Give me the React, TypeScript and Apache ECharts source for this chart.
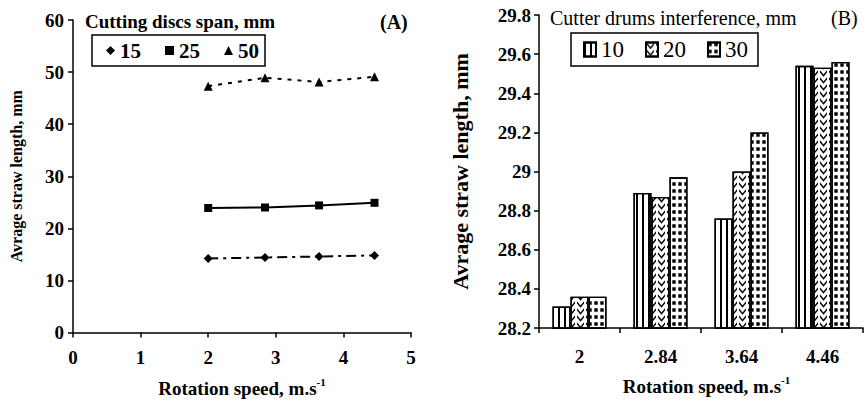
import React, { useEffect, useRef } from "react";
import * as echarts from "echarts";

const speeds = [2, 2.84, 3.64, 4.46];
const span15 = [14.2, 14.4, 14.6, 14.8];
const span25 = [23.9, 24.0, 24.4, 24.9];
const span50 = [47.3, 48.9, 48.1, 49.1];

const speedCats = ["2", "2.84", "3.64", "4.46"];
const interf10 = [28.31, 28.89, 28.76, 29.54];
const interf20 = [28.36, 28.87, 29.0, 29.53];
const interf30 = [28.36, 28.97, 29.2, 29.56];

const FONT = "'Liberation Serif', 'Times New Roman', serif";

export default function App() {
  const ref = useRef<HTMLDivElement>(null);
  useEffect(() => {
    document.body.style.margin = "0";
    const chart = echarts.init(ref.current!, null, { renderer: "svg" });
    const axisLine = { show: true, lineStyle: { color: "#000", width: 1.5 } };
    const axisTick = { show: true, length: 5, lineStyle: { color: "#000", width: 1.5 } };
    const lbl = { color: "#000", fontFamily: FONT, fontSize: 19, fontWeight: "bold" as const };
    const nameRich = {
      a: { color: "#000", fontFamily: FONT, fontSize: 19, fontWeight: "bold" as const },
      b: { color: "#000", fontFamily: FONT, fontSize: 11, fontWeight: "bold" as const, padding: [0, 0, 13, 0] },
    };
    const lineSeries = (name: string, data: number[], symbol: string, type: any, size: number) => ({
      type: "line",
      name,
      xAxisIndex: 0,
      yAxisIndex: 0,
      data: speeds.map((s, i) => [s, data[i]]),
      symbol,
      symbolSize: size,
      itemStyle: { color: "#000" },
      lineStyle: { color: "#000", width: 2, type },
    });
    const barSeries = (name: string, data: number[], decal: any) => ({
      type: "bar",
      name,
      xAxisIndex: 1,
      yAxisIndex: 1,
      data,
      barWidth: 18,
      barGap: "0%",
      itemStyle: { color: "#fff", borderColor: "#000", borderWidth: 1.3, decal },
    });
    chart.setOption({
      animation: false,
      grid: [
        { left: 73, top: 20, width: 338, height: 313 },
        { left: 539, top: 15, width: 324, height: 313 },
      ],
      xAxis: [
        {
          type: "value",
          gridIndex: 0,
          min: 0,
          max: 5,
          interval: 1,
          axisLine,
          axisTick,
          splitLine: { show: false },
          axisLabel: { ...lbl, margin: 15 },
          name: "{a|Rotation speed, m.s}{b|-1}",
          nameLocation: "middle",
          nameGap: 44,
          nameTextStyle: { rich: nameRich },
        },
        {
          type: "category",
          gridIndex: 1,
          data: speedCats,
          axisLine,
          axisTick,
          axisLabel: { ...lbl, margin: 19 },
          name: "{a|Rotation speed, m.s}{b|-1}",
          nameLocation: "middle",
          nameGap: 46,
          nameTextStyle: { rich: nameRich, padding: [0, 0, 0, 11] },
        },
      ],
      yAxis: [
        {
          type: "value",
          gridIndex: 0,
          min: 0,
          max: 60,
          interval: 10,
          axisLine,
          axisTick,
          splitLine: { show: false },
          axisLabel: { ...lbl, margin: 9 },
          name: "Avrage straw length, mm",
          nameLocation: "middle",
          nameGap: 49,
          nameTextStyle: { color: "#000", fontFamily: FONT, fontSize: 16, fontWeight: "bold" },
        },
        {
          type: "value",
          gridIndex: 1,
          min: 28.2,
          max: 29.8,
          interval: 0.2,
          axisLine,
          axisTick,
          splitLine: { show: false },
          axisLabel: { ...lbl, margin: 8 },
          name: "Avrage straw length, mm",
          nameLocation: "middle",
          nameGap: 68,
          nameTextStyle: { color: "#000", fontFamily: FONT, fontSize: 22, fontWeight: "bold" },
        },
      ],
      legend: [
        {
          left: 92,
          top: 35,
          padding: [5, 6, 5, 14],
          itemGap: 24,
          itemWidth: 9,
          itemHeight: 9,
          borderColor: "#000",
          borderWidth: 1.5,
          textStyle: { color: "#000", fontFamily: FONT, fontSize: 21, fontWeight: "bold" },
          data: [
            { name: "15", icon: "diamond" },
            { name: "25", icon: "rect" },
            { name: "50", icon: "triangle" },
          ],
        },
        {
          left: 571,
          top: 33,
          padding: [5, 10, 5, 12],
          itemGap: 21,
          itemWidth: 12,
          itemHeight: 14,
          borderColor: "#000",
          borderWidth: 1.5,
          textStyle: { color: "#000", fontFamily: FONT, fontSize: 23 },
          data: [
            { name: "10", icon: "rect" },
            { name: "20", icon: "rect" },
            { name: "30", icon: "rect" },
          ],
        },
      ],
      graphic: [
        { type: "text", left: 85, top: 12, style: { text: "Cutting discs span, mm", fill: "#000", font: `bold 19px ${FONT}` } },
        { type: "text", left: 380, top: 12, style: { text: "(A)", fill: "#000", font: `bold 20px ${FONT}` } },
        { type: "text", left: 550, top: 8, style: { text: "Cutter drums interference, mm", fill: "#000", font: `20px ${FONT}` } },
        { type: "text", left: 831, top: 8, style: { text: "(B)", fill: "#000", font: `20px ${FONT}` } },
      ],
      series: [
        lineSeries("15", span15, "diamond", [10, 5, 3, 5], 9),
        lineSeries("25", span25, "rect", "solid", 8),
        lineSeries("50", span50, "triangle", [4, 6], 9),
        barSeries("10", interf10, {
          symbol: "rect",
          symbolSize: 1,
          color: "#000",
          dashArrayX: [2, 4],
          dashArrayY: [6, 0],
        }),
        barSeries("20", interf20, {
          symbol: "path://M0,0L5,6L10,0L10,3L5,9L0,3Z",
          symbolSize: 0.9,
          color: "#000",
          dashArrayX: [9, 0],
          dashArrayY: [7, 0],
        }),
        barSeries("30", interf30, {
          symbol: "rect",
          symbolSize: 0.85,
          color: "#000",
          dashArrayX: [4, 2],
          dashArrayY: [4, 3],
        }),
      ],
    });
    return () => chart.dispose();
  }, []);
  return <div ref={ref} style={{ width: 866, height: 403 }} />;
}
